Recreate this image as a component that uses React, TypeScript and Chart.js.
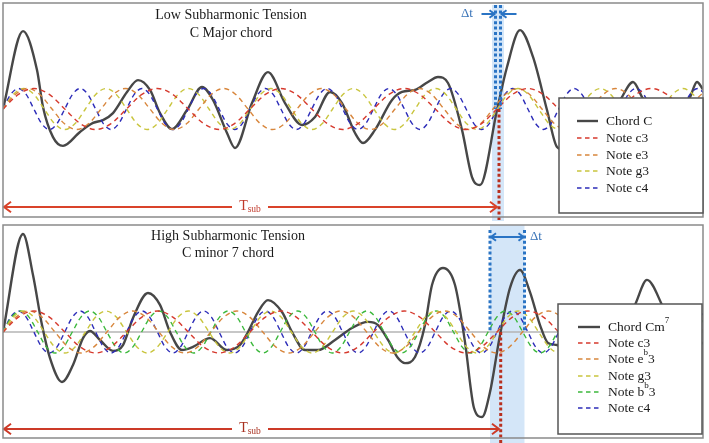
import React, { useEffect, useRef } from "react";
import { Chart, registerables } from "chart.js";
Chart.register(...registerables);

// ---------- data ----------
const T_MIN = 0;
const T_MAX = 700;
// one period of a pure tone, sampled every eighth of a period (unit amplitude)
const NOTE_CYCLE = [0, 0.71, 1, 0.71, 0, -0.71, -1, -0.71];

const TOP_NOTE_LABELS = ["Note c3", "Note e3", "Note g3", "Note c4"];
const TOP_NOTE_PERIODS = [123.5, 98.0, 82.4, 61.75];
const TOP_NOTE_COLORS = ["#d63a2e", "#d8863c", "#c9c53e", "#2c2cb8"];

const BOTTOM_NOTE_LABELS = ["Note c3", "Note eb3", "Note g3", "Note bb3", "Note c4"];
const BOTTOM_NOTE_PERIODS = [123.5, 103.9, 82.4, 69.3, 61.75];
const BOTTOM_NOTE_COLORS = ["#d63a2e", "#d8863c", "#c9c53e", "#3cb83c", "#2c2cb8"];

const TOP_CHORD_T = [0, 20, 34, 40, 50, 60, 77, 90, 100, 110, 124, 135, 147, 157, 169, 184, 199, 210, 224, 232, 249, 265, 282, 299, 312, 327, 339, 352, 360, 372, 389, 399, 412, 425, 435, 445, 459, 469, 477, 494, 504, 517, 530, 544, 554, 562, 578, 590, 600, 610, 618, 630, 640, 651, 663, 678, 687, 694, 700];
const TOP_CHORD_V = [0, 3.8, 1.9, 0.1, -1.37, -1.8, -1.12, -0.68, -0.54, -0.2, 0.83, 1.41, 0.93, -0.2, -0.98, -0.05, 1.07, 0.44, -1.17, -1.9, 0.29, 1.8, 0.29, -0.78, -0.39, 0.83, 0.29, -1.17, -1.66, -1.02, 0.44, 0.83, 0.93, 1.32, 1.56, 1.27, -1.02, -3.32, -3.71, -0.05, 2.05, 3.85, 2.54, -0.05, -1.85, -2.0, -1.2, -0.7, -0.55, -0.2, 0.5, 1.32, 0.5, -0.2, -0.98, -0.05, 0.58, 1.32, 0.95];

const BOTTOM_CHORD_T = [0, 20, 30, 39, 47, 59, 70, 80, 87, 97, 110, 120, 130, 145, 157, 167, 179, 190, 207, 224, 237, 245, 255, 265, 279, 289, 302, 315, 332, 349, 365, 375, 385, 395, 402, 412, 422, 429, 440, 452, 462, 471, 479, 487, 497, 507, 517, 527, 537, 545, 554, 565, 580, 595, 610, 620, 632, 644, 659, 670, 685, 700];
const BOTTOM_CHORD_V = [0, 4.67, 2.71, 0.33, -1.24, -2.38, -1.57, -0.29, 0.05, -0.38, -0.9, -0.62, 0.67, 1.86, 1.29, 0, -0.86, -0.71, -0.29, -0.86, -0.62, 0, 0.95, 1.52, 0.95, 0, -0.86, -0.86, -0.38, 0.19, 0.48, 0.33, -0.38, -1.24, -1.48, -1.19, 0.33, 2.24, 3.05, 2.24, -0.48, -3.62, -4.05, -2.86, -0.14, 2.1, 2.95, 1.9, 0.33, -0.52, -0.62, -0.9, -1.3, -0.6, -0.4, 0.2, 1.29, 2.48, 1.29, 0, -1.0, -0.5];

const T_SUB = 494;
const TOP_DT = [492.5, 497.5];
const TOP_DT_RED = 496;
const TOP_SHADE = [489, 501];
const BOTTOM_DT = [487, 521.5];
const BOTTOM_DT_RED = 497.7;
const BOTTOM_SHADE = [487, 521.5];

// ---------- helpers ----------
const SERIF = '"Liberation Serif", "DejaVu Serif", serif';
const CHORD_COLOR = "#474747";

type Part = { t: string; s: number; dy?: number };

function noteData(period: number) {
  const pts: { x: number; y: number }[] = [];
  const step = period / NOTE_CYCLE.length;
  for (let k = 0; k * step <= T_MAX + step; k++) {
    pts.push({ x: k * step, y: NOTE_CYCLE[k % NOTE_CYCLE.length] });
  }
  return pts;
}

function chordData(ts: number[], vs: number[]) {
  return ts.map((t, i) => ({ x: t, y: vs[i] }));
}

function drawRich(ctx: CanvasRenderingContext2D, parts: Part[], x: number, y: number, color: string, align: "left" | "center" = "left") {
  ctx.save();
  ctx.fillStyle = color;
  ctx.textBaseline = "middle";
  ctx.textAlign = "left";
  let total = 0;
  const widths = parts.map((p) => {
    ctx.font = `${p.s}px ${SERIF}`;
    const w = ctx.measureText(p.t).width;
    total += w;
    return w;
  });
  let cx = align === "center" ? x - total / 2 : x;
  parts.forEach((p, i) => {
    ctx.font = `${p.s}px ${SERIF}`;
    ctx.fillText(p.t, cx, y + (p.dy || 0));
    cx += widths[i];
  });
  ctx.restore();
}

function arrowHead(ctx: CanvasRenderingContext2D, x: number, y: number, dir: number, size: number) {
  ctx.beginPath();
  ctx.moveTo(x - dir * size, y - size * 0.75);
  ctx.lineTo(x, y);
  ctx.lineTo(x - dir * size, y + size * 0.75);
  ctx.stroke();
}

function hArrow(ctx: CanvasRenderingContext2D, x1: number, x2: number, y: number, color: string, width: number, headStart: boolean, headEnd: boolean, size = 6) {
  ctx.save();
  ctx.strokeStyle = color;
  ctx.lineWidth = width;
  ctx.beginPath();
  ctx.moveTo(x1, y);
  ctx.lineTo(x2, y);
  ctx.stroke();
  const dir = x2 > x1 ? 1 : -1;
  if (headEnd) arrowHead(ctx, x2, y, dir, size);
  if (headStart) arrowHead(ctx, x1, y, -dir, size);
  ctx.restore();
}

function vDotted(ctx: CanvasRenderingContext2D, x: number, y1: number, y2: number, color: string) {
  ctx.save();
  ctx.strokeStyle = color;
  ctx.lineWidth = 3;
  ctx.setLineDash([3, 2.4]);
  ctx.beginPath();
  ctx.moveTo(x, y1);
  ctx.lineTo(x, y2);
  ctx.stroke();
  ctx.restore();
}

type LegendItem = { parts: Part[]; color: string; dashed: boolean; y: number };

type PanelCfg = {
  titles: { text: string; y: number }[];
  titleX: number;
  zeroLine: boolean;
  shade: number[];
  shadeTop: number;
  dt: number[];
  dtTop: number;
  dtRed: number;
  dtArrowY: number;
  dtStyle: "inward" | "double";
  dtTextX: number;
  tsubY: number;
  tsubEnd: number;
  tsubColor: string;
  tsubTextColor: string;
  legend: { x: number; y: number; w: number; h: number; lineX1: number; lineX2: number; textX: number; items: LegendItem[] };
};

function makePlugin(cfg: PanelCfg) {
  return {
    id: "panelDecor",
    beforeDatasetsDraw(chart: any) {
      const ctx: CanvasRenderingContext2D = chart.ctx;
      const xs = chart.scales.x;
      const ys = chart.scales.y;
      const a = chart.chartArea;
      ctx.save();
      const sx1 = xs.getPixelForValue(cfg.shade[0]);
      const sx2 = xs.getPixelForValue(cfg.shade[1]);
      ctx.fillStyle = "rgba(160, 200, 240, 0.45)";
      ctx.fillRect(sx1, cfg.shadeTop, sx2 - sx1, chart.height - cfg.shadeTop);
      if (cfg.zeroLine) {
        const y0 = ys.getPixelForValue(0);
        ctx.strokeStyle = "#b5b5b5";
        ctx.lineWidth = 1.5;
        ctx.beginPath();
        ctx.moveTo(a.left, y0);
        ctx.lineTo(a.right, y0);
        ctx.stroke();
      }
      ctx.restore();
    },
    afterDatasetsDraw(chart: any) {
      const ctx: CanvasRenderingContext2D = chart.ctx;
      const xs = chart.scales.x;
      const ys = chart.scales.y;
      const a = chart.chartArea;
      const y0 = ys.getPixelForValue(0);
      const blue = "#2a74c4";

      // delta-t dotted lines
      cfg.dt.forEach((t) => vDotted(ctx, xs.getPixelForValue(t), cfg.dtTop, y0, blue));
      vDotted(ctx, xs.getPixelForValue(cfg.dtRed), y0, chart.height, "#b8301f");

      // delta-t arrows
      const dx1 = xs.getPixelForValue(cfg.dt[0]);
      const dx2 = xs.getPixelForValue(cfg.dt[1]);
      if (cfg.dtStyle === "inward") {
        hArrow(ctx, dx1 - 14, dx1 - 1, cfg.dtArrowY, blue, 2, false, true, 5);
        hArrow(ctx, dx2 + 16, dx2 + 1, cfg.dtArrowY, blue, 2, false, true, 5);
      } else {
        hArrow(ctx, dx1 + 1, dx2 - 1, cfg.dtArrowY, blue, 2, true, true, 5);
      }
      drawRich(ctx, [{ t: "Δt", s: 13 }], cfg.dtTextX, cfg.dtArrowY, "#3a74b8");

      // T_sub arrow
      const tx1 = xs.getPixelForValue(0) + 1;
      const tx2 = xs.getPixelForValue(cfg.tsubEnd);
      hArrow(ctx, tx1, 232, cfg.tsubY, cfg.tsubColor, 2, true, false, 7);
      hArrow(ctx, 268, tx2, cfg.tsubY, cfg.tsubColor, 2, false, true, 7);
      drawRich(ctx, [{ t: "T", s: 14 }, { t: "sub", s: 9.5, dy: 3 }], 250, cfg.tsubY - 1, cfg.tsubTextColor, "center");

      // titles
      cfg.titles.forEach((tt) => drawRich(ctx, [{ t: tt.text, s: 14 }], cfg.titleX, tt.y, "#1a1a1a", "center"));

      // panel border
      ctx.save();
      ctx.strokeStyle = "#8a8a8a";
      ctx.lineWidth = 1.5;
      ctx.strokeRect(a.left, a.top, a.right - a.left, a.bottom - a.top);
      ctx.restore();

      // legend box
      const L = cfg.legend;
      ctx.save();
      ctx.fillStyle = "#ffffff";
      ctx.fillRect(L.x, L.y, L.w, L.h);
      ctx.strokeStyle = "#555555";
      ctx.lineWidth = 1.5;
      ctx.strokeRect(L.x, L.y, L.w, L.h);
      L.items.forEach((it) => {
        ctx.save();
        ctx.strokeStyle = it.color;
        ctx.lineWidth = it.dashed ? 1.4 : 2.4;
        ctx.setLineDash(it.dashed ? [4.5, 3.5] : []);
        ctx.beginPath();
        ctx.moveTo(L.lineX1, it.y);
        ctx.lineTo(L.lineX2, it.y);
        ctx.stroke();
        ctx.restore();
        drawRich(ctx, it.parts, L.textX, it.y, "#1a1a1a");
      });
      ctx.restore();
    },
  };
}

function buildConfig(labels: string[], periods: number[], colors: string[], chordLabel: string, chordT: number[], chordV: number[], yMin: number, yMax: number, padding: any, cfg: PanelCfg) {
  const datasets: any[] = labels.map((lab, i) => ({
    label: lab,
    data: noteData(periods[i]),
    borderColor: colors[i],
    borderWidth: 1.4,
    borderDash: [5, 4],
    pointRadius: 0,
    cubicInterpolationMode: "monotone",
    fill: false,
  }));
  datasets.push({
    label: chordLabel,
    data: chordData(chordT, chordV),
    borderColor: CHORD_COLOR,
    borderWidth: 2.4,
    pointRadius: 0,
    cubicInterpolationMode: "monotone",
    fill: false,
  });
  return {
    type: "line" as const,
    data: { datasets },
    options: {
      animation: false,
      responsive: false,
      parsing: false,
      layout: { padding },
      plugins: { legend: { display: false }, tooltip: { enabled: false }, title: { display: false } },
      scales: {
        x: { type: "linear", min: T_MIN, max: T_MAX, display: false },
        y: { type: "linear", min: yMin, max: yMax, display: false },
      },
    },
    plugins: [makePlugin(cfg)],
  };
}

const TOP_CFG: PanelCfg = {
  titles: [
    { text: "Low Subharmonic Tension", y: 15 },
    { text: "C Major chord", y: 33 },
  ],
  titleX: 231,
  zeroLine: false,
  shade: TOP_SHADE,
  shadeTop: 5,
  dt: TOP_DT,
  dtTop: 5,
  dtRed: TOP_DT_RED,
  dtArrowY: 14,
  dtStyle: "inward",
  dtTextX: 461,
  tsubY: 207,
  tsubEnd: T_SUB,
  tsubColor: "#d9432a",
  tsubTextColor: "#c0392b",
  legend: {
    x: 559, y: 98, w: 144, h: 115, lineX1: 577, lineX2: 598, textX: 606,
    items: [
      { parts: [{ t: "Chord C", s: 13.5 }], color: CHORD_COLOR, dashed: false, y: 121 },
      { parts: [{ t: "Note c3", s: 13.5 }], color: TOP_NOTE_COLORS[0], dashed: true, y: 138 },
      { parts: [{ t: "Note e3", s: 13.5 }], color: TOP_NOTE_COLORS[1], dashed: true, y: 155 },
      { parts: [{ t: "Note g3", s: 13.5 }], color: TOP_NOTE_COLORS[2], dashed: true, y: 171 },
      { parts: [{ t: "Note c4", s: 13.5 }], color: TOP_NOTE_COLORS[3], dashed: true, y: 188 },
    ],
  },
};

const BOTTOM_CFG: PanelCfg = {
  titles: [
    { text: "High Subharmonic Tension", y: 15 },
    { text: "C minor 7 chord", y: 32 },
  ],
  titleX: 228,
  zeroLine: true,
  shade: BOTTOM_SHADE,
  shadeTop: 4,
  dt: BOTTOM_DT,
  dtTop: 9,
  dtRed: BOTTOM_DT_RED,
  dtArrowY: 16,
  dtStyle: "double",
  dtTextX: 530,
  tsubY: 208,
  tsubEnd: T_SUB + 2,
  tsubColor: "#cc3a28",
  tsubTextColor: "#a8301f",
  legend: {
    x: 558, y: 83, w: 144, h: 130, lineX1: 578, lineX2: 600, textX: 608,
    items: [
      { parts: [{ t: "Chord Cm", s: 13.5 }, { t: "7", s: 9, dy: -6 }], color: CHORD_COLOR, dashed: false, y: 106 },
      { parts: [{ t: "Note c3", s: 13.5 }], color: BOTTOM_NOTE_COLORS[0], dashed: true, y: 122 },
      { parts: [{ t: "Note e", s: 13.5 }, { t: "b", s: 9, dy: -6 }, { t: "3", s: 13.5 }], color: BOTTOM_NOTE_COLORS[1], dashed: true, y: 138 },
      { parts: [{ t: "Note g3", s: 13.5 }], color: BOTTOM_NOTE_COLORS[2], dashed: true, y: 155 },
      { parts: [{ t: "Note b", s: 13.5 }, { t: "b", s: 9, dy: -6 }, { t: "3", s: 13.5 }], color: BOTTOM_NOTE_COLORS[3], dashed: true, y: 171 },
      { parts: [{ t: "Note c4", s: 13.5 }], color: BOTTOM_NOTE_COLORS[4], dashed: true, y: 187 },
    ],
  },
};

export default function App() {
  const topRef = useRef<HTMLCanvasElement | null>(null);
  const botRef = useRef<HTMLCanvasElement | null>(null);

  useEffect(() => {
    document.body.style.margin = "0";
    const charts: Chart[] = [];
    if (topRef.current) {
      charts.push(
        new Chart(
          topRef.current,
          buildConfig(TOP_NOTE_LABELS, TOP_NOTE_PERIODS, TOP_NOTE_COLORS, "Chord C", TOP_CHORD_T, TOP_CHORD_V,
            -(217 - 109) / 20.5, (109 - 3) / 20.5, { left: 3, right: 6, top: 3, bottom: 4 }, TOP_CFG) as any
        )
      );
    }
    if (botRef.current) {
      charts.push(
        new Chart(
          botRef.current,
          buildConfig(BOTTOM_NOTE_LABELS, BOTTOM_NOTE_PERIODS, BOTTOM_NOTE_COLORS, "Chord Cm7", BOTTOM_CHORD_T, BOTTOM_CHORD_V,
            -(217 - 111) / 21, (111 - 4) / 21, { left: 3, right: 6, top: 4, bottom: 5 }, BOTTOM_CFG) as any
        )
      );
    }
    return () => charts.forEach((c) => c.destroy());
  }, []);

  return (
    <div style={{ position: "relative", width: 709, height: 443, background: "#ffffff", overflow: "hidden" }}>
      <canvas ref={topRef} width={709} height={221} style={{ position: "absolute", left: 0, top: 0, display: "block" }} />
      <canvas ref={botRef} width={709} height={222} style={{ position: "absolute", left: 0, top: 221, display: "block" }} />
    </div>
  );
}
